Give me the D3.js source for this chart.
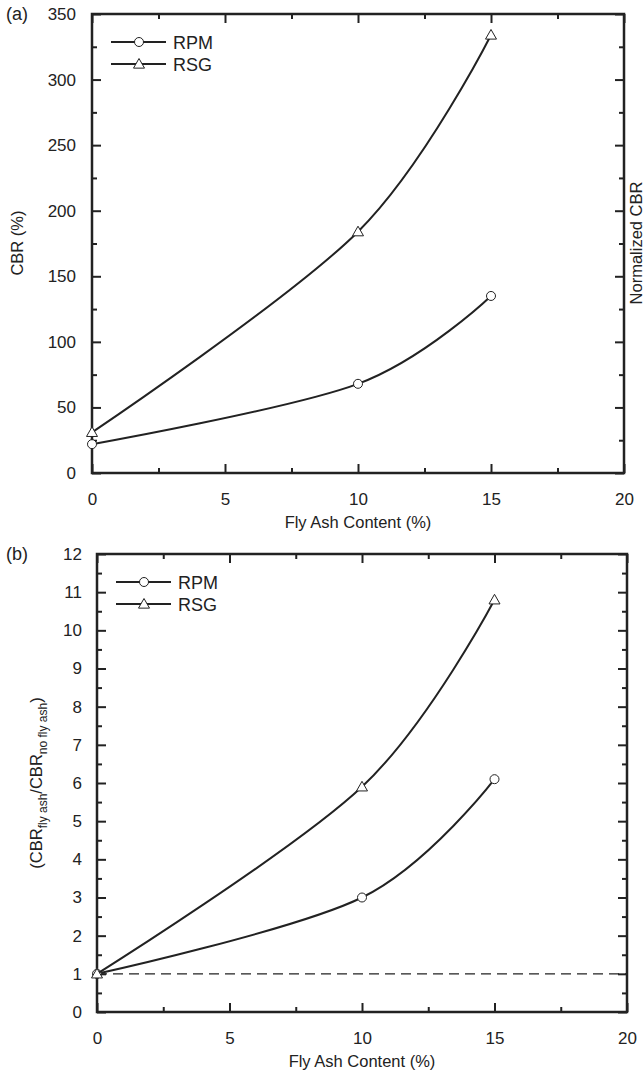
<!DOCTYPE html>
<html>
<head>
<meta charset="utf-8">
<script src="https://cdn.jsdelivr.net/npm/d3@7"></script>
<style>
  body { margin: 0; background: #fff; }
  svg text { font-family: "Liberation Sans", Arial, sans-serif; fill: #222; }
</style>
</head>
<body>
<div id="chart"></div>
<script>
// fly ash content (%)
const flyAsh = [0, 10, 15];
// panel (a) CBR (%)
const rpmCbr = [22, 68, 135];
const rsgCbr = [31, 184, 334];
// panel (b) normalized CBR
const rpmNorm = [1, 3.0, 6.1];
const rsgNorm = [1, 5.9, 10.8];

const xTicks = [0, 5, 10, 15, 20];
const xMinor = [2.5, 7.5, 12.5, 17.5];
const yTicksA = [0, 50, 100, 150, 200, 250, 300, 350];
const yMinorA = [25, 75, 125, 175, 225, 275, 325];
const yTicksB = [0, 1, 2, 3, 4, 5, 6, 7, 8, 9, 10, 11, 12];
const yMinorB = [0.5, 1.5, 2.5, 3.5, 4.5, 5.5, 6.5, 7.5, 8.5, 9.5, 10.5, 11.5];

const seriesNames = ["RPM", "RSG"];

const svg = d3.select("#chart").append("svg")
  .attr("width", 644).attr("height", 1079);

function marker(g, type, cx, cy) {
  if (type === "RPM") {
    g.append("circle").attr("cx", cx).attr("cy", cy).attr("r", 4.5)
      .attr("fill", "#fff").attr("stroke", "#222").attr("stroke-width", 1);
  } else {
    const s = 5.5;
    g.append("path")
      .attr("d", `M${cx},${cy - s}L${cx + s},${cy + s * 0.75}L${cx - s},${cy + s * 0.75}Z`)
      .attr("fill", "#fff").attr("stroke", "#222").attr("stroke-width", 1);
  }
}

// *draw one panel
function panel(opt) {
  const { left, right, top, bottom } = opt;
  const x = d3.scaleLinear().domain([0, 20]).range([left, right]);
  const y = d3.scaleLinear().domain(opt.yDomain).range([bottom, top]);
  const g = svg.append("g");

  const tickStyle = (sel) => {
    sel.select(".domain").remove();
    sel.selectAll("line").attr("stroke", "#222").attr("stroke-width", 2);
    sel.selectAll("text").attr("font-size", 17).attr("fill", "#222");
  };

  // major ticks with labels
  g.append("g").attr("transform", `translate(0,${bottom})`)
    .call(d3.axisBottom(x).tickValues(xTicks).tickSizeInner(-9).tickSizeOuter(0).tickPadding(20))
    .call(tickStyle);
  g.append("g").attr("transform", `translate(${left},0)`)
    .call(d3.axisLeft(y).tickValues(opt.yTicks).tickSizeInner(-9).tickSizeOuter(0).tickPadding(opt.yPad))
    .call(tickStyle);
  // top and right ticks, no labels
  g.append("g").attr("transform", `translate(0,${top})`)
    .call(d3.axisTop(x).tickValues(xTicks).tickSizeInner(-9).tickSizeOuter(0).tickFormat(""))
    .call(tickStyle);
  g.append("g").attr("transform", `translate(${right},0)`)
    .call(d3.axisRight(y).tickValues(opt.yTicks).tickSizeInner(-9).tickSizeOuter(0).tickFormat(""))
    .call(tickStyle);
  // minor ticks
  g.append("g").attr("transform", `translate(0,${bottom})`)
    .call(d3.axisBottom(x).tickValues(xMinor).tickSizeInner(-5).tickSizeOuter(0).tickFormat(""))
    .call(tickStyle);
  g.append("g").attr("transform", `translate(0,${top})`)
    .call(d3.axisTop(x).tickValues(xMinor).tickSizeInner(-5).tickSizeOuter(0).tickFormat(""))
    .call(tickStyle);
  g.append("g").attr("transform", `translate(${left},0)`)
    .call(d3.axisLeft(y).tickValues(opt.yMinor).tickSizeInner(-5).tickSizeOuter(0).tickFormat(""))
    .call(tickStyle);
  g.append("g").attr("transform", `translate(${right},0)`)
    .call(d3.axisRight(y).tickValues(opt.yMinor).tickSizeInner(-5).tickSizeOuter(0).tickFormat(""))
    .call(tickStyle);

  // frame
  g.append("rect").attr("x", left).attr("y", top)
    .attr("width", right - left).attr("height", bottom - top)
    .attr("fill", "none").attr("stroke", "#222").attr("stroke-width", 2.5);

  // reference line
  if (opt.refLine !== undefined) {
    g.append("line")
      .attr("x1", x(0)).attr("x2", x(20))
      .attr("y1", y(opt.refLine)).attr("y2", y(opt.refLine))
      .attr("stroke", "#222").attr("stroke-width", 1.2)
      .attr("stroke-dasharray", "10,6");
  }

  // curves
  const line = d3.line()
    .x((d) => x(d[0]))
    .y((d) => y(d[1]))
    .curve(d3.curveCardinal.tension(0));
  opt.series.forEach(function (vals, i) {
    const pts = flyAsh.map((f, j) => [f, vals[j]]);
    g.append("path").datum(pts).attr("d", line)
      .attr("fill", "none").attr("stroke", "#222").attr("stroke-width", 2);
    pts.forEach((p) => marker(g, seriesNames[i], x(p[0]), y(p[1])));
  });

  // legend
  seriesNames.forEach(function (name, i) {
    const ly = opt.legendY + i * 22;
    g.append("line").attr("x1", left + 19).attr("x2", left + 74)
      .attr("y1", ly).attr("y2", ly)
      .attr("stroke", "#222").attr("stroke-width", 2);
    marker(g, name, left + 47, ly);
    g.append("text").attr("x", left + 81).attr("y", ly + 6.5)
      .attr("font-size", 18).text(name);
  });

  // x axis title
  g.append("text").attr("x", (left + right) / 2).attr("y", bottom + 55)
    .attr("text-anchor", "middle").attr("font-size", 16.5)
    .text("Fly Ash Content (%)");

  // panel letter
  g.append("text").attr("x", 6).attr("y", top + 6)
    .attr("font-size", 18).text(opt.letter);

  return { g, x, y };
}

const pa = panel({
  left: 92, right: 624, top: 14, bottom: 473,
  yDomain: [0, 350], yTicks: yTicksA, yMinor: yMinorA, yPad: 16,
  series: [rpmCbr, rsgCbr], legendY: 42, letter: "(a)"
});

pa.g.append("text")
  .attr("transform", "translate(23,243) rotate(-90)")
  .attr("text-anchor", "middle").attr("font-size", 16.5)
  .text("CBR (%)");
pa.g.append("text")
  .attr("transform", "translate(642,243) rotate(-90)")
  .attr("text-anchor", "middle").attr("font-size", 16.5)
  .text("Normalized CBR");

const pb = panel({
  left: 97, right: 627, top: 554, bottom: 1012,
  yDomain: [0, 12], yTicks: yTicksB, yMinor: yMinorB, yPad: 15,
  series: [rpmNorm, rsgNorm], legendY: 582, letter: "(b)", refLine: 1
});

const lab = pb.g.append("text")
  .attr("transform", "translate(42,783) rotate(-90)")
  .attr("text-anchor", "middle").attr("font-size", 16.5);
lab.append("tspan").text("(CBR");
lab.append("tspan").attr("dy", 5).attr("font-size", 12).text("fly ash");
lab.append("tspan").attr("dy", -5).text("/CBR");
lab.append("tspan").attr("dy", 5).attr("font-size", 12).text("no fly ash");
lab.append("tspan").attr("dy", -5).text(")");
</script>
</body>
</html>
